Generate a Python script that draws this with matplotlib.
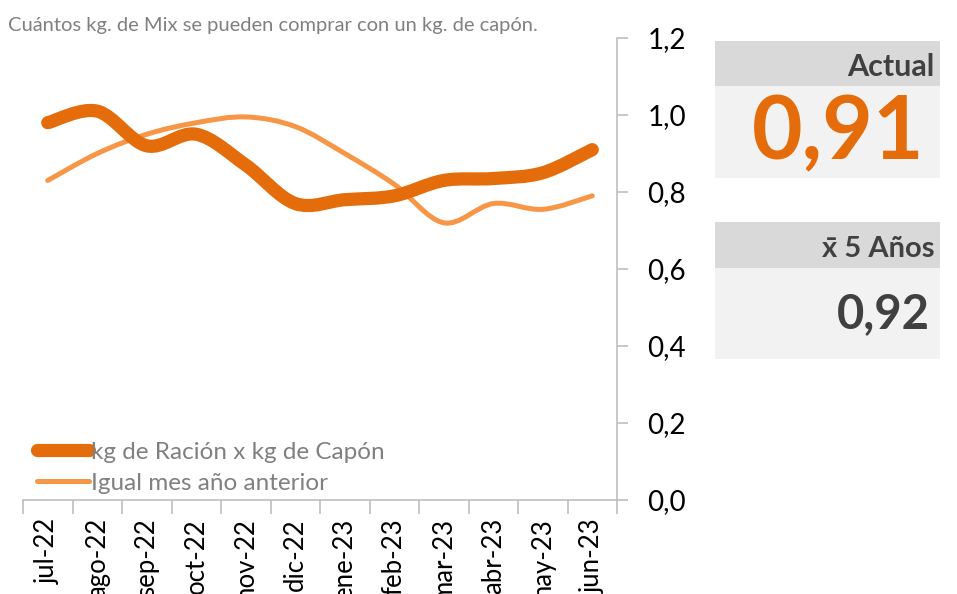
import numpy as np
import matplotlib
matplotlib.use("Agg")
import matplotlib.pyplot as plt
from matplotlib.path import Path
from matplotlib.patches import PathPatch, Rectangle
from matplotlib.lines import Line2D

plt.rcParams['font.family'] = ['Lato', 'DejaVu Sans']

# data
months = ['jul-22', 'ago-22', 'sep-22', 'oct-22', 'nov-22', 'dic-22',
          'ene-23', 'feb-23', 'mar-23', 'abr-23', 'may-23', 'jun-23']
racion_capon = [0.98, 1.01, 0.92, 0.95, 0.87, 0.77, 0.78, 0.79, 0.83, 0.835, 0.85, 0.91]
anio_anterior = [0.83, 0.90, 0.95, 0.98, 0.995, 0.97, 0.90, 0.82, 0.72, 0.77, 0.755, 0.79]
actual_txt = '0,91'
prom5_txt = '0,92'

ORANGE = '#E46C0A'
LIGHT = '#F79646'
GRID = '#BFBFBF'
W, H = 957, 594


def smooth_path(xs, ys):
    # Excel-like smoothed line: Catmull-Rom turned into cubic Bezier segments
    p = np.column_stack([xs, ys]).astype(float)
    ext = np.vstack([p[0], p, p[-1]])
    verts = [p[0]]
    codes = [Path.MOVETO]
    for i in range(1, len(ext) - 2):
        c1 = ext[i] + (ext[i + 1] - ext[i - 1]) / 6
        c2 = ext[i + 1] - (ext[i + 2] - ext[i]) / 6
        verts += [c1, c2, ext[i + 1]]
        codes += [Path.CURVE4] * 3
    return Path(verts, codes)


def fx(px):
    return px / W


def fy(py):
    return 1 - py / H


fig = plt.figure(figsize=(W / 100, H / 100), dpi=100)
ax = fig.add_axes([fx(23), fy(500), fx(617) - fx(23), (500 - 38) / H])

x = np.arange(len(months))
ax.add_patch(PathPatch(smooth_path(x, racion_capon), fill=False, edgecolor=ORANGE,
                       lw=9.5, capstyle='round', joinstyle='round', zorder=3))
ax.add_patch(PathPatch(smooth_path(x, anio_anterior), fill=False, edgecolor=LIGHT,
                       lw=3.6, capstyle='round', joinstyle='round', zorder=2))

ax.set_xlim(-0.5, len(months) - 0.5)
ax.set_ylim(0, 1.2)
ax.set_yticks(np.arange(0, 1.21, 0.2))
ax.set_yticklabels([f'{v:.1f}'.replace('.', ',') for v in np.arange(0, 1.21, 0.2)])
ax.yaxis.tick_right()
ax.tick_params(axis='y', colors=GRID, labelcolor='black', labelsize=20,
               length=8, width=1.2, pad=14)

ax.set_xticks(x)
ax.set_xticklabels(months, rotation=90, va='top', ha='center')
ax.set_xticks(np.arange(-0.5, len(months), 1), minor=True)
ax.tick_params(axis='x', which='major', length=0, labelsize=18.5, pad=13, labelcolor='black')
ax.tick_params(axis='x', which='minor', length=10, width=1.2, color=GRID)

for s in ['top', 'left']:
    ax.spines[s].set_visible(False)
for s in ['right', 'bottom']:
    ax.spines[s].set_color(GRID)
    ax.spines[s].set_linewidth(1.2)

handles = [Line2D([], [], color=ORANGE, lw=9.5, solid_capstyle='round'),
           Line2D([], [], color=LIGHT, lw=3.6, solid_capstyle='round')]
leg = ax.legend(handles, ['kg de Ración x kg de Capón', 'Igual mes año anterior'],
                loc='lower left', bbox_to_anchor=(0.008, -0.008), frameon=False,
                fontsize=17.5, handlelength=2.1, handletextpad=0.1,
                labelspacing=0.42, borderaxespad=0.0)
for t in leg.get_texts():
    t.set_color('#808080')

fig.text(fx(8), fy(25), 'Cuántos kg. de Mix se pueden comprar con un kg. de capón.',
         fontsize=14.5, color='#808080', va='center', ha='left')

# right side boxes
def box(y0, y1, color):
    fig.add_artist(Rectangle((fx(715), fy(y1)), fx(940) - fx(715), (y1 - y0) / H,
                             transform=fig.transFigure, facecolor=color,
                             edgecolor='none'))

box(41, 86, '#D9D9D9')
box(86, 178, '#F2F2F2')
box(222, 268, '#D9D9D9')
box(268, 359, '#F2F2F2')

fig.text(fx(934), fy(67), 'Actual', fontsize=22, fontweight='bold',
         color='#404040', ha='right', va='center')
fig.text(fx(924), fy(134), actual_txt, fontsize=63, fontweight='bold',
         color=ORANGE, ha='right', va='center')
fig.text(fx(934), fy(249), 'x\u0304 5 Años', fontsize=21, fontweight='bold',
         color='#404040', ha='right', va='center')
fig.text(fx(930), fy(314), prom5_txt, fontsize=34, fontweight='bold',
         color='#404040', ha='right', va='center')

fig.savefig('out.png', dpi=100)
